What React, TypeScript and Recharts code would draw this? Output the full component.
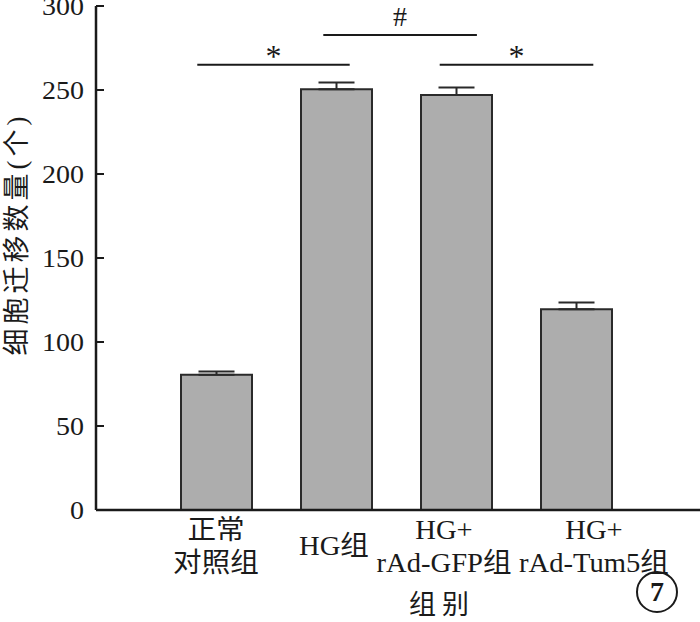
import React from "react";
import {
  BarChart,
  Bar,
  XAxis,
  YAxis,
  ErrorBar,
  ReferenceLine,
  ScatterChart,
} from "recharts";

const groups = ["正常\n对照组", "HG组", "HG+\nrAd-GFP组", "HG+\nrAd-Tum5组"];
const counts = [80.5, 250.5, 247, 119.5];
const sems = [2, 4, 4.5, 4];
const yTicks = [0, 50, 100, 150, 200, 250, 300];

// significance brackets: [from, to] in group-index units, height, mark
const sigFrom = [-0.16, 0.89, 1.86];
const sigTo = [1.11, 2.17, 3.14];
const sigY = [265, 282.7, 265];
const sigMark = ["*", "#", "*"];

const data = groups.map((g, i) => ({
  group: g,
  count: counts[i],
  err: [0, sems[i]],
}));

const FONT = "'Liberation Serif', 'Noto Sans CJK SC', serif";
const INK = "#1a1a1a";
const MARGIN = { top: 6, right: 0, bottom: 112, left: 96 };
// the long labels sit off-centre in the original so they don't collide
const labelShift = [0, -2, -12, 18];

const YTick = (props: any) => {
  const { x, y, payload } = props;
  return (
    <g>
      <line x1={x} y1={y} x2={x + 8} y2={y} stroke={INK} strokeWidth={2} />
      <text
        transform={`translate(${x - 12},${y}) scale(1.12,1)`}
        dy="0.36em"
        textAnchor="end"
        fontFamily={FONT}
        fontSize={25}
        fill={INK}
      >
        {payload.value}
      </text>
    </g>
  );
};

const XTick = (props: any) => {
  const { x, y, payload, index } = props;
  const lines = String(payload.value).split("\n");
  const lh = 33;
  const first = lines.length === 1 ? y + 43 : y + 27;
  const cx = x + (labelShift[index] || 0);
  return (
    <g>
      {lines.map((l, i) => (
        <text
          key={i}
          transform={`translate(${cx},${first + i * lh}) scale(1.06,1)`}
          textAnchor="middle"
          fontFamily={FONT}
          fontSize={27}
          fill={INK}
        >
          {l}
        </text>
      ))}
    </g>
  );
};

const SigLabel = (mark: string) => (props: any) => {
  const vb = props.viewBox || {};
  const cx = vb.x + (vb.width || 0) / 2;
  const star = mark === "*";
  return (
    <text
      x={cx}
      y={star ? vb.y + 2 : vb.y - 9}
      textAnchor="middle"
      fontFamily={FONT}
      fontSize={star ? 32 : 28}
      fill={INK}
    >
      {mark}
    </text>
  );
};

export default function App() {
  return (
    <div
      style={{
        position: "absolute",
        left: 0,
        top: 0,
        width: 700,
        height: 622,
        background: "#fff",
      }}
    >
      <BarChart
        width={700}
        height={622}
        data={data}
        margin={{ top: 6, right: 0, bottom: 0, left: 0 }}
        barSize={71}
      >
        <XAxis
          dataKey="group"
          height={112}
          padding={{ left: 60, right: 64 }}
          axisLine={{ stroke: INK, strokeWidth: 2.5 }}
          tickLine={false}
          tickSize={0}
          tick={<XTick />}
          interval={0}
        />
        <YAxis
          domain={[0, 300]}
          ticks={yTicks}
          width={96}
          axisLine={{ stroke: INK, strokeWidth: 2.5 }}
          tickLine={false}
          tickSize={0}
          tickMargin={0}
          tick={<YTick />}
          interval={0}
        />
        <Bar
          dataKey="count"
          fill="#adadad"
          stroke="#2a2a2a"
          strokeWidth={2}
          isAnimationActive={false}
        >
          <ErrorBar
            dataKey="err"
            width={18}
            stroke="#2a2a2a"
            strokeWidth={2}
            direction="y"
          />
        </Bar>
      </BarChart>
      <div style={{ position: "absolute", left: 0, top: 0, pointerEvents: "none" }}>
        <ScatterChart width={700} height={622} margin={MARGIN}>
          <XAxis
            type="number"
            dataKey="x"
            domain={[-1.004, 4.029]}
            allowDataOverflow
            hide
          />
          <YAxis
            type="number"
            dataKey="y"
            domain={[0, 300]}
            allowDataOverflow
            hide
          />
          {sigFrom.map((f, i) => (
            <ReferenceLine
              key={i}
              segment={[
                { x: f, y: sigY[i] },
                { x: sigTo[i], y: sigY[i] },
              ]}
              stroke={INK}
              strokeWidth={2}
              ifOverflow="visible"
              label={SigLabel(sigMark[i])}
            />
          ))}
        </ScatterChart>
      </div>
      <div
        style={{
          position: "absolute",
          left: 17,
          top: 234,
          transform: "translate(-50%, -50%) rotate(-90deg)",
          whiteSpace: "nowrap",
          fontFamily: FONT,
          fontSize: 27,
          letterSpacing: 4,
          color: INK,
          lineHeight: 1,
        }}
      >
        细胞迁移数量(个)
      </div>
      <div
        style={{
          position: "absolute",
          left: 442,
          top: 605,
          transform: "translate(-50%, -50%)",
          fontFamily: FONT,
          fontSize: 27,
          letterSpacing: 6,
          color: INK,
          lineHeight: 1,
          whiteSpace: "nowrap",
        }}
      >
        组别
      </div>
      <div
        style={{
          position: "absolute",
          left: 636,
          top: 571,
          width: 38,
          height: 38,
          border: "2px solid #1a1a1a",
          borderRadius: "50%",
          display: "flex",
          alignItems: "center",
          justifyContent: "center",
          fontFamily: FONT,
          fontWeight: "bold",
          fontSize: 28,
          color: INK,
        }}
      >
        7
      </div>
    </div>
  );
}
